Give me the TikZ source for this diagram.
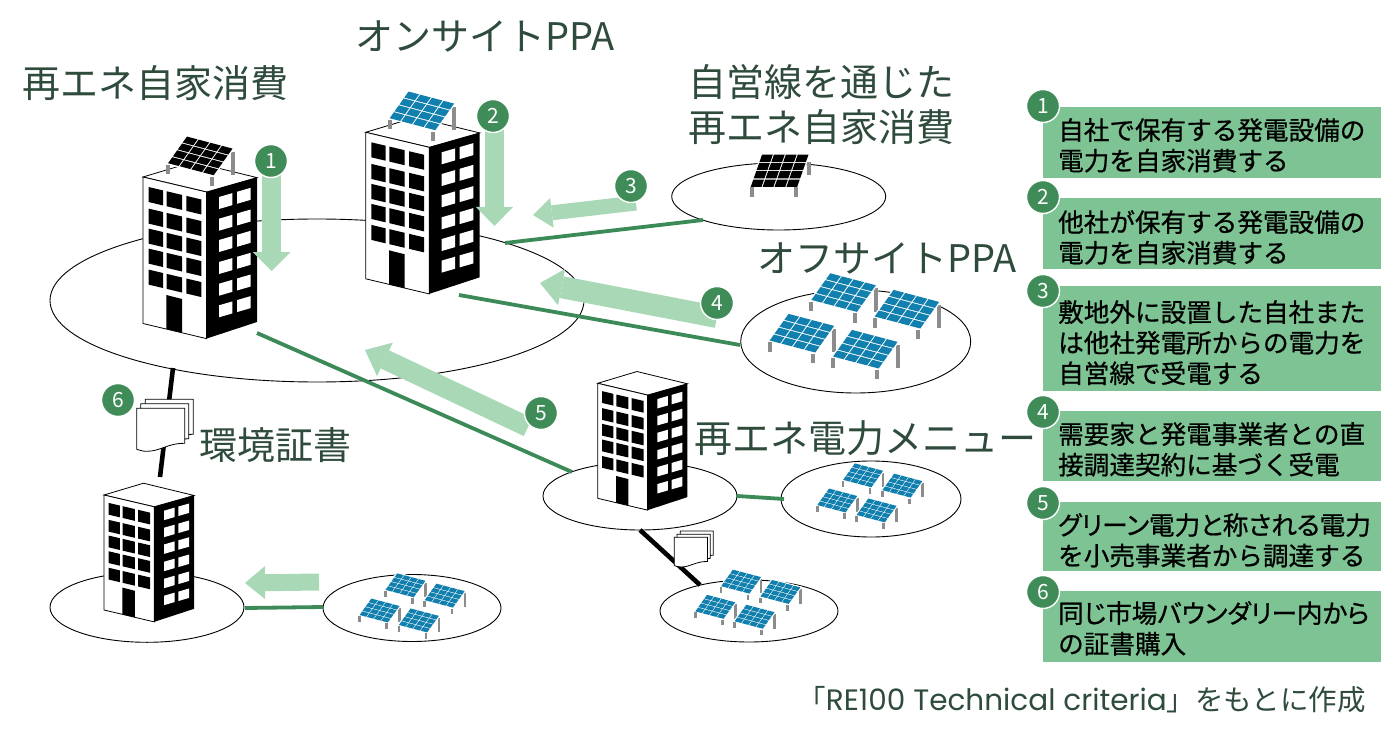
\documentclass[tikz,border=0pt]{standalone}
\usepackage{fontspec}
\setmainfont{Noto Sans CJK JP}
\newfontfamily\legfont[FakeBold=0.7]{Noto Sans CJK JP}
\newfontfamily\legpalt[FakeBold=0.7,RawFeature=+palt]{Noto Sans CJK JP}
\newfontfamily\latinfont{Poppins}
\usetikzlibrary{shapes.geometric,arrows.meta}
\definecolor{ttl}{HTML}{2F4B3C}
\definecolor{dkg}{HTML}{3F8C58}
\definecolor{lng}{HTML}{3C8A57}
\definecolor{lgt}{HTML}{A9D8B6}
\definecolor{box}{HTML}{7DC393}
\definecolor{pvb}{HTML}{1280AE}
\definecolor{leg}{HTML}{8C8C8C}
\tikzset{
 ring/.style={draw=black,line width=0.9pt,fill=white,ellipse,inner sep=0pt},
 title/.style={text=ttl,font=\fontsize{38}{45}\selectfont,inner sep=0pt},
 wire/.style={draw=lng,line width=3.8pt},
 tie/.style={draw=black,line width=4.6pt},
 num/.style={circle,fill=dkg,draw=white,line width=1.4pt,minimum size=33pt,inner sep=0pt,text=white,font=\fontsize{21}{24}\selectfont},
 legbox/.style={fill=box,inner sep=0pt,anchor=north west,minimum width=338pt},
 legtext/.style={font=\legfont\fontsize{25.6}{30.6}\selectfont,align=left,anchor=north west,inner sep=0pt,text=black},
}
\newcommand{\cellsgrid}[7]{%
 \begin{scope}[shift={(#1,#2)},x={(#3pt,-#4pt)},y={(#5pt,-#6pt)}]
  \fill[white,draw=white,line width=1.6pt] (0,0)--(1,0)--(1,1)--(0,1)--cycle;
  \foreach \i in {0,1,2,3}{\foreach \j in {0,1,2,3}{
   \fill[#7] ({\i/4+.012},{\j/4+.016})--({(\i+1)/4-.012},{\j/4+.016})--({(\i+1)/4-.012},{(\j+1)/4-.016})--({\i/4+.012},{(\j+1)/4-.016})--cycle;
  }}
 \end{scope}}
\newcommand{\solar}[4]{% x y scale colour
 \begin{scope}[shift={(#1,#2)},scale=#3]
  \fill[leg] (44,15.7) rectangle (48,39);
  \cellsgrid{0}{0}{46.7}{12.3}{-19.5}{27.5}{#4}
  \fill[leg] (-20.7,29) rectangle (-16.7,38.5);
  \fill[leg] (23,40.7) rectangle (27,50);
 \end{scope}}
\newcommand{\pvgroup}[3]{% x y scale
 \begin{scope}[shift={(#1,#2)},scale=#3]
  \solar{0}{0}{1}{pvb}
  \solar{63.3}{16.6}{1}{pvb}
  \solar{-41.7}{40.6}{1}{pvb}
  \solar{21.7}{56.6}{1}{pvb}
 \end{scope}}
\newcommand{\bldg}[4]{% x y xscale yscale
 \begin{scope}[shift={(#1,#2)},xscale=#3,yscale=#4]
  \filldraw[fill=white,draw=black,line width=.8pt] (0,0)--(50,-15)--(114,0.6)--(63.5,15)--cycle;
  \filldraw[fill=white,draw=black,line width=.8pt] (0,0)--(63.5,15)--(63.5,161.6)--(0,146.5)--cycle;
  \fill[black] (63.5,15)--(114,0.6)--(114,145)--(63.5,161.6)--cycle;
  \foreach \v in {8.7,30.3,50.3,70.3,91.3}{\foreach \u/\w in {5.7/14.3,23.7/15.3,43.3/15}{
   \fill[black] ({\u},{\v+\u*.236})--({\u+\w},{\v+(\u+\w)*.236})--({\u+\w},{\v+15+(\u+\w)*.236})--({\u},{\v+15+\u*.236})--cycle;
  }}
  \fill[black] (23.3,118)--(39,122)--(39,155.8)--(23.3,152)--cycle;
  \foreach \v in {20,41.7,63,85,106.7,128.3}{\foreach \u/\w in {76/13.3,94/13.7}{
   \fill[white] ({\u},{\v-(\u-76)*.29})--({\u+\w},{\v-(\u+\w-76)*.29})--({\u+\w},{\v+12-(\u+\w-76)*.29})--({\u},{\v+12-(\u-76)*.29})--cycle;
  }}
 \end{scope}}
\newcommand{\docsheet}{\filldraw[fill=white,draw=black,line width=.8pt] (0,0)--(48,0)--(48,35) .. controls (30,35) and (24,43) .. (10,43) .. controls (6,43) and (3,42) .. (0,41)--cycle;}
\newcommand{\docstack}[3]{%
 \begin{scope}[shift={(#1,#2)},scale=#3]
  \begin{scope}[shift={(8.5,-9)}]\docsheet\end{scope}
  \begin{scope}[shift={(4,-4.5)}]\docsheet\end{scope}
  \docsheet
 \end{scope}}
\begin{document}
\begin{tikzpicture}[x=1pt,y=-1pt]
\useasboundingbox (0,0) rectangle (1384,738);
% rings
\node[ring,minimum width=534pt,minimum height=163pt] (site) at (317,300.5) {};
\node[ring,minimum width=214pt,minimum height=67pt] (own) at (778.7,196.5) {};
\node[ring,minimum width=230pt,minimum height=103pt] (off) at (855.7,341.5) {};
\node[ring,minimum width=194pt,minimum height=68pt] (midr) at (640,496) {};
\node[ring,minimum width=180pt,minimum height=76pt] (midpv) at (871,499) {};
\node[ring,minimum width=178pt,minimum height=62pt] (lowpv) at (749,611) {};
\node[ring,minimum width=194pt,minimum height=70pt] (certr) at (147,607.3) {};
\node[ring,minimum width=178pt,minimum height=67pt] (botpv) at (412,608) {};
% connector ends
\coordinate (w3a) at (505,243); \coordinate (w3b) at (703,220);
\coordinate (w4a) at (459,295); \coordinate (w4b) at (740,345);
\coordinate (w5a) at (257,333); \coordinate (w5b) at (572,472);
\coordinate (w6a) at (737,496); \coordinate (w6b) at (784,499);
\coordinate (w7a) at (245,608); \coordinate (w7b) at (323,607);
\coordinate (t1a) at (173,368); \coordinate (t1b) at (160,477);
\coordinate (t2a) at (640,530); \coordinate (t2b) at (700,585);
\draw[wire] (w3a)--(w3b);
\draw[wire] (w4a)--(w4b);
\draw[wire] (w5a)--(w5b);
\draw[wire] (w6a)--(w6b);
\draw[wire] (w7a)--(w7b);
\draw[tie] (t1a)--(t1b);
\draw[tie] (t2a)--(t2b);
% solar
\cellsgrid{761.7}{154}{47.6}{0}{-11.7}{33.3}{black}
\fill[leg] (749.5,187.5) rectangle (753.5,197.5);
\fill[leg] (794,187.5) rectangle (798,197.5);
\fill[leg] (806.5,162) rectangle (810.5,175);
\pvgroup{830}{272.7}{1}
\pvgroup{854.7}{463}{.62}
\pvgroup{732.7}{569.3}{.62}
\pvgroup{397}{573}{.62}
% buildings
\bldg{143}{177}{1}{1}
\solar{186.7}{136}{1}{black}
\bldg{365.7}{132.3}{1}{1}
\solar{408.3}{91}{1}{pvb}
\bldg{597.7}{383.3}{.786}{.785}
\bldg{104}{495}{.79}{.785}
% docs
\docstack{136.7}{408.3}{1}
\docstack{674.3}{537.3}{.69}
% arrows
\coordinate (a1a) at (271.5,175); \coordinate (a1b) at (271.5,271);
\coordinate (a2a) at (494.5,130); \coordinate (a2b) at (494.5,226);
\coordinate (a3a) at (636,203); \coordinate (a3b) at (533,215);
\coordinate (a4a) at (717,317); \coordinate (a4b) at (540,283);
\coordinate (a5a) at (528,427); \coordinate (a5b) at (365,350);
\coordinate (a6a) at (319,582); \coordinate (a6b) at (245,583);
\foreach \p/\q/\w/\h/\l in {a1a/a1b/19/38/19,a2a/a2b/19/37/19,a3a/a3b/15/30/19,a4a/a4b/22/37/22,a5a/a5b/20/37/22,a6a/a6b/17/33/20}
 \draw[draw=lgt,line width=\w pt,-{Triangle[length=\l pt,width=\h pt,fill=lgt,line width=0pt]}] (\p)--(\q);
% numbered circles
\node[num] (n1) at (271,161) {1};
\node[num] (n2) at (493,116) {2};
\node[num] (n3) at (631,186) {3};
\node[num] (n4) at (717,303) {4};
\node[num] (n5) at (541,413) {5};
\node[num] (n6) at (118,400) {6};
% titles
\node[title] (t1) at (156,83) {再エネ自家消費};
\node[title] (t2) at (485,36) {オンサイトPPA};
\node[title,align=center] (t3) at (821,105) {自営線を通じた\\再エネ自家消費};
\node[title] (t4) at (887,258) {オフサイトPPA};
\node[title] (t5) at (865,438) {再エネ電力メニュー};
\node[title] (t6) at (275,445) {環境証書};
% legend
\node[legbox,minimum height=71pt] (b1) at (1043,107) {};
\node[legbox,minimum height=71pt] (b2) at (1043,198) {};
\node[legbox,minimum height=105pt] (b3) at (1043,286) {};
\node[legbox,minimum height=70pt] (b4) at (1043,411) {};
\node[legbox,minimum height=69pt] (b5) at (1043,502) {};
\node[legbox,minimum height=71pt] (b6) at (1043,591) {};
\node[legtext] (x1) at (1058,118) {自社で保有する発電設備の\\電力を自家消費する};
\node[legtext] (x2) at (1058,210) {他社が保有する発電設備の\\電力を自家消費する};
\node[legtext] (x3) at (1058,300) {敷地外に設置した自社また\\は他社発電所からの電力を\\自営線で受電する};
\node[legtext] (x4) at (1058,422) {需要家と発電事業者との直\\接調達契約に基づく受電};
\node[legtext] (x5) at (1058,513) {\legpalt グリーン電力と称される電力\\\legfont を小売事業者から調達する};
\node[legtext] (x6) at (1058,601) {\legpalt 同じ市場バウンダリー内から\\\legfont の証書購入};
\node[num] (c1) at (1043,106) {1};
\node[num] (c2) at (1043,197) {2};
\node[num] (c3) at (1043,291) {3};
\node[num] (c4) at (1043,412) {4};
\node[num] (c5) at (1043,503) {5};
\node[num] (c6) at (1043,592) {6};
\node[text=ttl,inner sep=0pt,anchor=east,font=\fontsize{28.5}{30}\selectfont] (src) at (1366,700) {「{\latinfont\fontsize{29.5}{30}\selectfont RE100 Technical criteria}」をもとに作成};
\end{tikzpicture}
\end{document}
